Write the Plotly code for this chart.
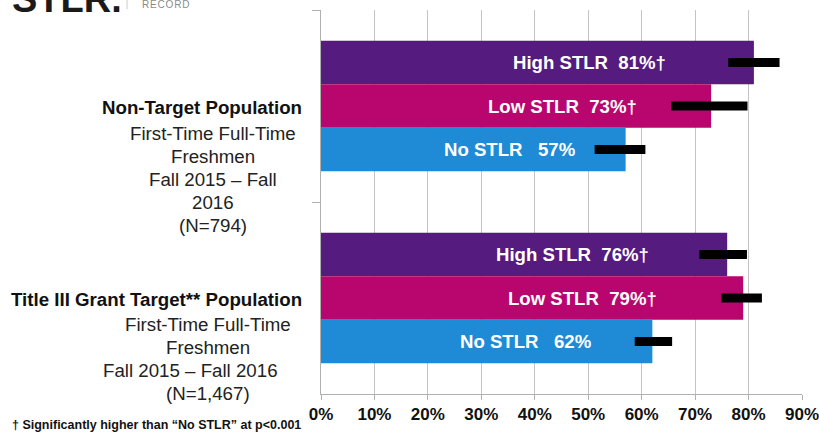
import plotly.graph_objects as go

# ---------------- data ----------------
groups = ["Non-Target Population", "Title III Grant Target** Population"]
series_names = ["High STLR", "Low STLR", "No STLR"]
high_stlr = [81, 76]
low_stlr = [73, 79]
no_stlr = [57, 62]
high_ci_low = [76.2, 70.8]
high_ci_high = [85.8, 79.7]
low_ci_low = [65.5, 74.9]
low_ci_high = [79.8, 82.5]
no_ci_low = [51.2, 58.7]
no_ci_high = [60.7, 65.7]
high_sig = [True, True]
low_sig = [True, True]
no_sig = [False, False]
x_ticks = [0, 10, 20, 30, 40, 50, 60, 70, 80, 90]
top_lines = ["First-Time Full-Time", "Freshmen", "Fall 2015 \u2013 Fall", "2016", "(N=794)"]
bottom_lines = ["First-Time Full-Time", "Freshmen", "Fall 2015 \u2013 Fall 2016", "(N=1,467)"]
footnote = "\u2020 Significantly higher than \u201cNo STLR\u201d at p<0.001"

# ---------------- layout constants ----------------
W, H = 819, 441
L, R, T, B = 321, 802, 10, 394
FONT = "Liberation Sans, Arial, sans-serif"
colors = ["#561b7e", "#b8066e", "#1f8bd6"]
BARGAP = 0.32
FS = 18.7


def px_x(p):
    return (p - L) / (R - L)


def px_y(p):
    return (B - p) / (B - T)


fig = go.Figure()
vals = [high_stlr, low_stlr, no_stlr]
lows = [high_ci_low, low_ci_low, no_ci_low]
highs = [high_ci_high, low_ci_high, no_ci_high]
sigs = [high_sig, low_sig, no_sig]

for k, name in enumerate(series_names):
    v = vals[k]
    fig.add_trace(go.Bar(
        orientation="h",
        y=groups,
        x=v,
        name=name,
        marker=dict(color=colors[k], line=dict(width=0)),
        error_x=dict(
            type="data", symmetric=False,
            array=[h - a for h, a in zip(highs[k], v)],
            arrayminus=[a - lo for lo, a in zip(lows[k], v)],
            color="black", thickness=9, width=0,
        ),
        hoverinfo="skip",
    ))

# bar labels
bw = (1 - BARGAP) / 3
annotations = []
for k, name in enumerate(series_names):
    for gi in range(len(groups)):
        v = vals[k][gi]
        gap = "\u00a0\u00a0" if sigs[k][gi] else "\u00a0\u00a0\u00a0"
        txt = f"{name}{gap}{v}%" + ("\u2020" if sigs[k][gi] else "")
        annotations.append(dict(
            x=0.62 * v, y=gi + (k - 1) * bw, xref="x", yref="y",
            text=txt, showarrow=False, xanchor="center", yanchor="middle",
            font=dict(family=FONT, size=18.6, color="white", weight="bold"),
        ))

# left group titles
for gi, g in enumerate(groups):
    annotations.append(dict(
        x=px_x(304), y=gi, xref="paper", yref="y", text=g, showarrow=False,
        xanchor="right", yanchor="middle", yshift=-1,
        font=dict(family=FONT, size=FS, color="#111111", weight="bold"),
    ))

# subtitle lines
for i, line in enumerate(top_lines):
    annotations.append(dict(
        x=px_x(213), y=0, xref="paper", yref="y", text=line, showarrow=False,
        xanchor="center", yanchor="middle", yshift=-(27 + 23 * i),
        font=dict(family=FONT, size=FS, color="#222222"),
    ))
bottom_cx = [208, 208, 190, 208]
for i, line in enumerate(bottom_lines):
    annotations.append(dict(
        x=px_x(bottom_cx[i]), y=1, xref="paper", yref="y", text=line, showarrow=False,
        xanchor="center", yanchor="middle", yshift=-(26 + 23 * i),
        font=dict(family=FONT, size=FS, color="#222222"),
    ))

# footnote
annotations.append(dict(
    x=px_x(303), y=px_y(425), xref="paper", yref="paper", text=footnote,
    showarrow=False, xanchor="right", yanchor="middle",
    font=dict(family=FONT, size=12.5, color="#111111", weight="bold"),
))

# cut-off logo at top-left
annotations.append(dict(
    x=px_x(10), y=px_y(22), xref="paper", yref="paper", text="STLR.",
    showarrow=False, xanchor="left", yanchor="bottom",
    font=dict(family=FONT, size=38, color="#1a1a1a", weight="bold"),
))
annotations.append(dict(
    x=px_x(140), y=px_y(4.5), xref="paper", yref="paper", text="R\u200aE\u200aC\u200aO\u200aR\u200aD",
    showarrow=False, xanchor="left", yanchor="middle",
    font=dict(family=FONT, size=10, color="#8a8a8a"),
))

fig.update_layout(
    width=W, height=H,
    margin=dict(l=L, r=W - R, t=T, b=H - B, pad=0, autoexpand=False),
    paper_bgcolor="white", plot_bgcolor="white",
    barmode="group", bargap=BARGAP, bargroupgap=0,
    showlegend=False,
    annotations=annotations,
    shapes=[dict(type="line", xref="paper", yref="paper",
                 x0=px_x(127), x1=px_x(127), y0=px_y(0), y1=px_y(9),
                 line=dict(color="#cccccc", width=1))],
    xaxis=dict(
        range=[0, 90], tickvals=x_ticks, ticktext=[f"{t}%" for t in x_ticks],
        showgrid=True, gridcolor="#c4c4c4", gridwidth=1,
        showline=True, linecolor="#b0b0b0", linewidth=1,
        ticks="outside", ticklen=5, tickcolor="#b0b0b0",
        tickfont=dict(family=FONT, size=17, color="#111111", weight="bold"),
        ticklabeloverflow="allow", automargin=False,
        zeroline=False, fixedrange=True,
    ),
    yaxis=dict(
        type="category", categoryorder="array", categoryarray=groups,
        range=[1.5, -0.5], showticklabels=False, automargin=False,
        ticks="outside", tickson="boundaries", ticklen=8, tickcolor="#b0b0b0",
        showline=True, linecolor="#b0b0b0", linewidth=1,
        showgrid=False, zeroline=False, fixedrange=True,
    ),
)

fig.write_html("out.html", config={"displayModeBar": False})

# remove default page margin so the figure sits at the window's origin
with open("out.html", "r", encoding="utf-8") as f:
    html = f.read()
html = html.replace("<head>", "<head><style>html,body{margin:0;padding:0;overflow:hidden;}</style>", 1)
with open("out.html", "w", encoding="utf-8") as f:
    f.write(html)
